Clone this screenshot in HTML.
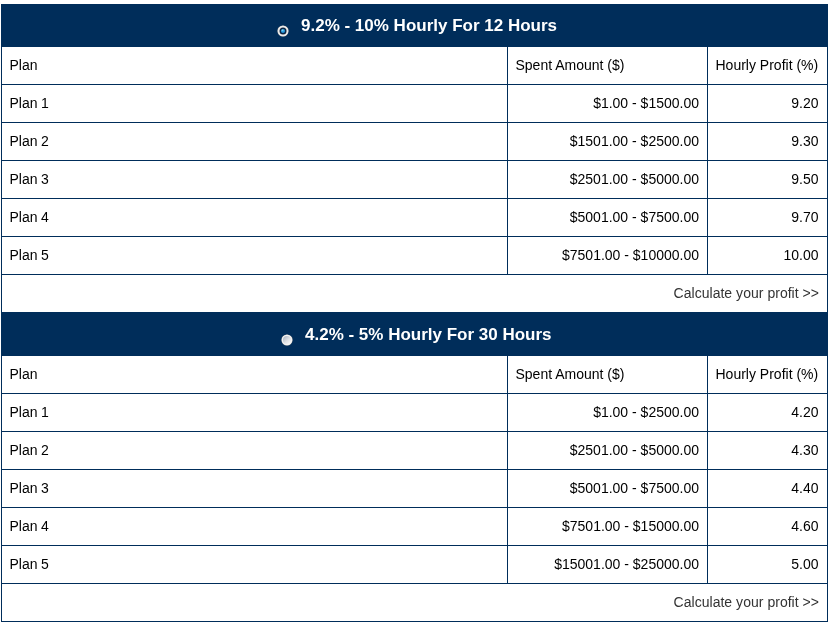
<!DOCTYPE html>
<html>
<head>
<meta charset="utf-8">
<title>Plans</title>
<style>
html,body{margin:0;padding:0;background:#fff;}
body{font-family:"Liberation Sans",Arial,sans-serif;font-size:14px;color:#000;}
.wrap{position:absolute;left:1px;top:4px;width:827px;}
table.plans{width:826px;border-collapse:collapse;table-layout:fixed;margin:0;}
table.plans td,table.plans th{border:1px solid #002d5a;padding:0 8px;height:38px;vertical-align:middle;font-weight:normal;text-align:left;box-sizing:border-box;}
table.plans td span{position:relative;top:-1px;}
table.plans td.l span{left:-0.5px;}
table.plans td.n span{word-spacing:-0.5px;}
table.plans td.p span{left:-0.5px;}
table.plans td.calc span{letter-spacing:0.03px;}
table.plans th.hd{background:#002d5a;color:#fff;font-weight:bold;font-size:17px;text-align:left;height:42px;padding:0;position:relative;}
table.plans th.hd .t{position:absolute;top:11px;line-height:20px;white-space:nowrap;}
table.plans td.r{text-align:right;}
table.plans td.calc{text-align:right;color:#333;}
.radio{position:absolute;width:16px;height:16px;display:block;}
</style>
</head>
<body>
<div class="wrap">
<table class="plans">
<colgroup><col style="width:506px"><col style="width:200px"><col style="width:120px"></colgroup>
<tr><th class="hd" colspan="3"><svg class="radio" style="left:273px;top:18px" viewBox="0 0 16 16"><defs><radialGradient id="g1" cx="0.38" cy="0.3" r="0.75"><stop offset="0" stop-color="#8fdcf5"/><stop offset="0.45" stop-color="#2a9fe0"/><stop offset="1" stop-color="#1a86d0"/></radialGradient></defs><circle cx="8" cy="8" r="5.6" fill="#cfc6ba"/><circle cx="8" cy="8" r="5.2" fill="#ececec"/><circle cx="8" cy="8" r="3.5" fill="#0c2340"/><circle cx="8" cy="8" r="2.1" fill="url(#g1)"/></svg><span class="t" style="left:299px">9.2% - 10% Hourly For 12 Hours</span></th></tr>
<tr><td class="l"><span>Plan</span></td><td class="l"><span>Spent Amount ($)</span></td><td class="l"><span>Hourly Profit (%)</span></td></tr>
<tr><td class="l n"><span>Plan 1</span></td><td class="r"><span>$1.00 - $1500.00</span></td><td class="r p"><span>9.20</span></td></tr>
<tr><td class="l n"><span>Plan 2</span></td><td class="r"><span>$1501.00 - $2500.00</span></td><td class="r p"><span>9.30</span></td></tr>
<tr><td class="l n"><span>Plan 3</span></td><td class="r"><span>$2501.00 - $5000.00</span></td><td class="r p"><span>9.50</span></td></tr>
<tr><td class="l n"><span>Plan 4</span></td><td class="r"><span>$5001.00 - $7500.00</span></td><td class="r p"><span>9.70</span></td></tr>
<tr><td class="l n"><span>Plan 5</span></td><td class="r"><span>$7501.00 - $10000.00</span></td><td class="r p"><span>10.00</span></td></tr>
<tr><td class="calc" colspan="3"><span>Calculate your profit &gt;&gt;</span></td></tr>
</table>
<table class="plans">
<colgroup><col style="width:506px"><col style="width:200px"><col style="width:120px"></colgroup>
<tr><th class="hd" colspan="3"><svg class="radio" style="left:277px;top:18px" viewBox="0 0 16 16"><defs><linearGradient id="g2" x1="0.15" y1="0.1" x2="0.85" y2="0.9"><stop offset="0" stop-color="#b4bbc6"/><stop offset="0.6" stop-color="#e2e4e7"/><stop offset="1" stop-color="#f6f6f6"/></linearGradient></defs><circle cx="8" cy="8" r="5.6" fill="#cfc6ba"/><circle cx="8" cy="8" r="5.2" fill="#f4f4f4"/><circle cx="8" cy="8" r="4.1" fill="url(#g2)"/></svg><span class="t" style="left:303px">4.2% - 5% Hourly For 30 Hours</span></th></tr>
<tr><td class="l"><span>Plan</span></td><td class="l"><span>Spent Amount ($)</span></td><td class="l"><span>Hourly Profit (%)</span></td></tr>
<tr><td class="l n"><span>Plan 1</span></td><td class="r"><span>$1.00 - $2500.00</span></td><td class="r p"><span>4.20</span></td></tr>
<tr><td class="l n"><span>Plan 2</span></td><td class="r"><span>$2501.00 - $5000.00</span></td><td class="r p"><span>4.30</span></td></tr>
<tr><td class="l n"><span>Plan 3</span></td><td class="r"><span>$5001.00 - $7500.00</span></td><td class="r p"><span>4.40</span></td></tr>
<tr><td class="l n"><span>Plan 4</span></td><td class="r"><span>$7501.00 - $15000.00</span></td><td class="r p"><span>4.60</span></td></tr>
<tr><td class="l n"><span>Plan 5</span></td><td class="r"><span>$15001.00 - $25000.00</span></td><td class="r p"><span>5.00</span></td></tr>
<tr><td class="calc" colspan="3"><span>Calculate your profit &gt;&gt;</span></td></tr>
</table>
</div>
</body>
</html>
